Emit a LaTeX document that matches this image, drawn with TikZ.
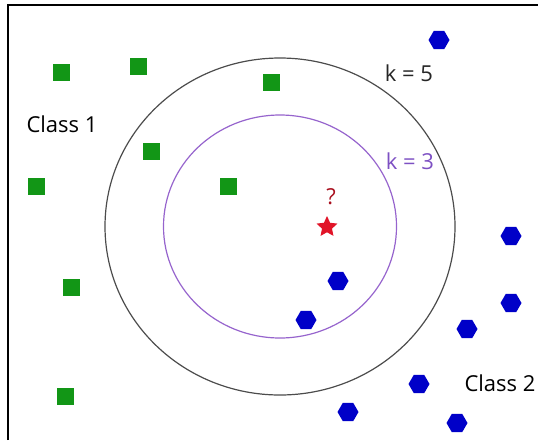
\documentclass[tikz,border=0pt]{standalone}
\usepackage{fontspec}
\setmainfont{Open Sans}
\usetikzlibrary{shapes.geometric}
\definecolor{classgreen}{RGB}{18,150,22}
\definecolor{classblue}{RGB}{0,0,200}
\definecolor{kpurple}{RGB}{125,80,195}
\definecolor{ringpurple}{RGB}{150,100,205}
\definecolor{qred}{RGB}{225,20,40}

\begin{document}
\begin{tikzpicture}[x=1pt, y=-1pt,
          sq/.style={
              fill=classgreen,
              minimum size=17pt,
              inner sep=0pt
            },
          hexa/.style={
              regular polygon,
              regular polygon sides=6,
              fill=classblue,
              minimum size=21pt,
              inner sep=0pt
            },
          lbl/.style={
              font=\fontsize{22}{26}\selectfont,
              inner sep=0pt
            },
          ring/.style={ellipse, draw, line width=1.2pt, inner sep=0pt}
        ]
        \useasboundingbox (0,0) rectangle (538,440);
        \draw[line width=2pt] (8,440) -- (8,5) -- (538,5);

        % the two neighbourhoods
        \node[ring, draw=black!70, minimum width=350pt, minimum height=337pt] (kfive) at (280,226.5) {};
        \node[ring, draw=ringpurple, minimum width=233pt, minimum height=223pt] (kthree) at (280,226.5) {};

        % class 1
        \node[sq] (g1) at (61,72) {};
        \node[sq] (g2) at (138,66) {};
        \node[sq] (g3) at (271,82) {};
        \node[sq] (g4) at (151,151) {};
        \node[sq] (g5) at (36,186) {};
        \node[sq] (g6) at (228,186) {};
        \node[sq] (g7) at (71,287) {};
        \node[sq] (g8) at (65,396) {};

        % class 2
        \node[hexa] (b1) at (439,40) {};
        \node[hexa] (b2) at (511,236) {};
        \node[hexa] (b3) at (338,281) {};
        \node[hexa] (b4) at (306,320) {};
        \node[hexa] (b5) at (511,303) {};
        \node[hexa] (b6) at (467,329) {};
        \node[hexa] (b7) at (419,384) {};
        \node[hexa] (b8) at (348,412) {};
        \node[hexa] (b9) at (457,423) {};

        % query point
        \node[star, star points=5, star point ratio=2.1, fill=qred, minimum size=22pt, inner sep=0pt] (query) at (327,227) {};
        \node[lbl, font=\fontsize{22}{24}\selectfont, text=qred!75!black] (qmark) at (331,197) {?};

        \node[lbl] (class1) at (62,124) {Class 1};
        \node[lbl] (class2) at (500,383) {Class 2};
        \node[lbl, text=black!85] (lkfive) at (409,73) {k = 5};
        \node[lbl, text=kpurple] (lkthree) at (410,161) {k = 3};
      \end{tikzpicture}
\end{document}
